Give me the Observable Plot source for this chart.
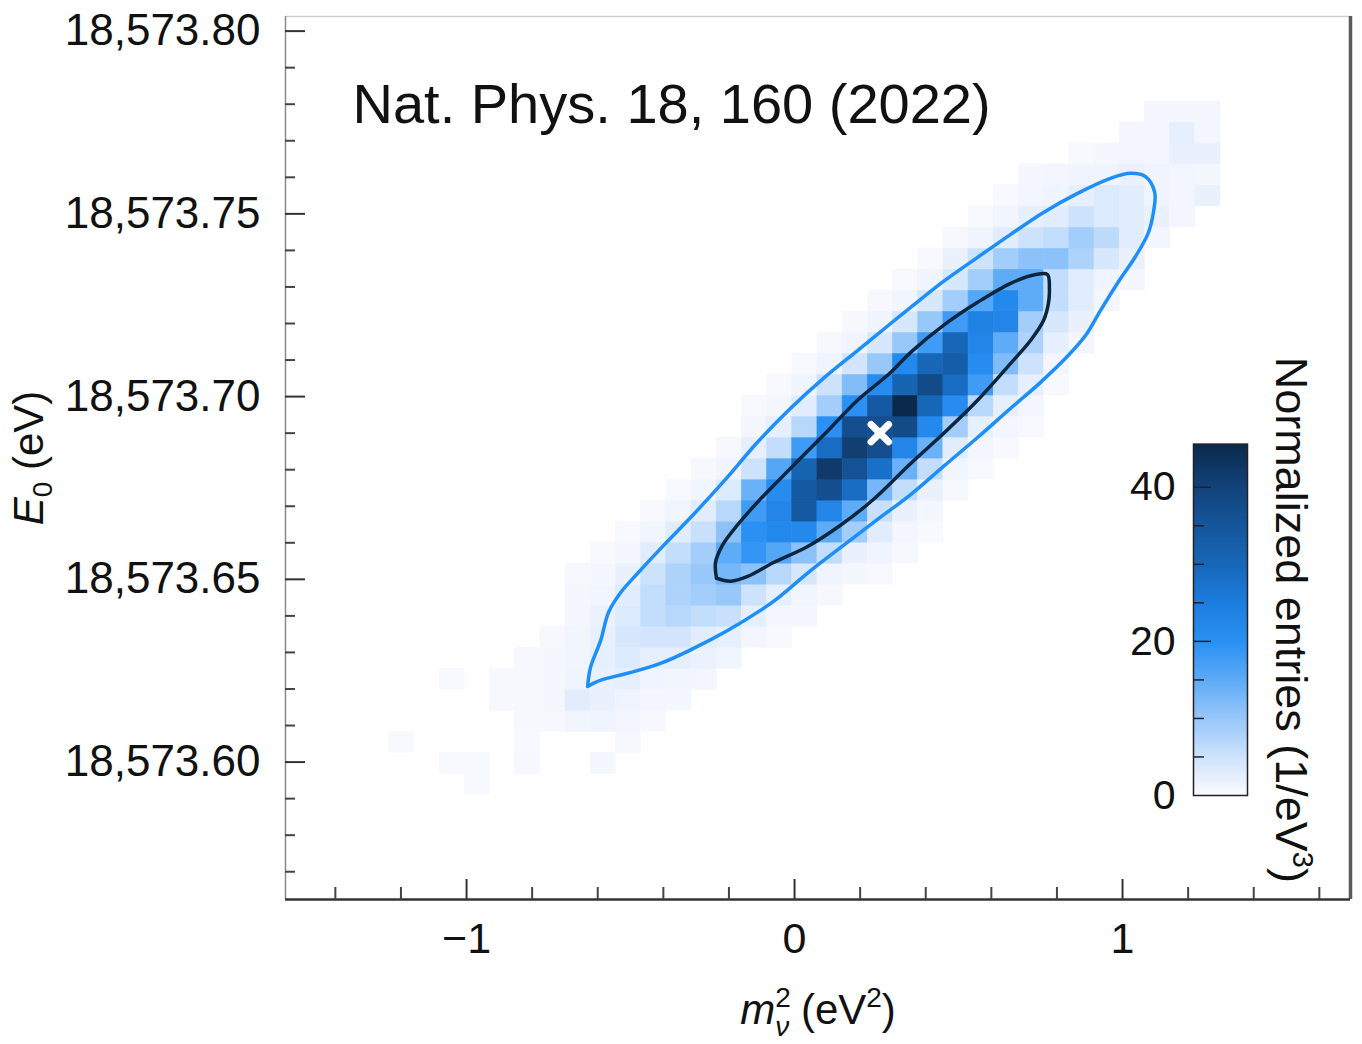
<!DOCTYPE html>
<html>
<head>
<meta charset="utf-8">
<script src="https://cdn.jsdelivr.net/npm/d3@7"></script>
<script src="https://cdn.jsdelivr.net/npm/@observablehq/plot@0.6"></script>
<style>
  html, body { margin: 0; padding: 0; background: #fff; overflow: hidden; }
  #chart { position: relative; width: 1362px; height: 1044px; }
  #chart svg { position: absolute; }
</style>
</head>
<body>
<div id="chart"></div>
<script>
// ---- Histogram binning (m_nu^2 in eV^2, E0 in eV) ----
const mBinOrigin = -0.007;
const mBinWidth = 0.0768;
const eBinOrigin = 18573.7003;
const eBinHeight = 0.00575;
const firstColumn = -16;

// First row index of each column, columns ordered from firstColumn upward
const columnStartRow = [
  -17, 0, -18, -19, -15, -18, -16, -16, -18, -17, -16, -15, -14, -13, -12, -12, -11,
  -10, -9, -9, -8, -7, -5, -4, -3, -2, 0, 2, 4, 5, 7, 8, 9
];

// Normalized entries (1/eV^3) per column, rows ascending in E0
const columnEntries = [
  [0.5],
  [],
  [0.5, 0, 0, 0, 0.5],
  [0.5, 0.5],
  [0.6, 0.6],
  [0.6, 0.5, 0.6, 0.6, 0.6, 0.6],
  [0.6, 0.8, 0.8, 0.8, 0.6],
  [1.2, 3, 1.5, 1.2, 1.2, 0.8, 0.8, 0.6],
  [0.8, 0, 1.5, 2, 2, 2.5, 2.2, 1.8, 1.2, 0.8, 0.5],
  [0.6, 1, 1.5, 2.5, 3.5, 4, 3.5, 3, 2, 0.8, 0.5],
  [0.6, 1, 1.5, 2.5, 4.5, 6, 6, 5, 3, 1.2, 0.5],
  [0.8, 1.2, 2.5, 4.5, 7, 8, 8, 6, 3, 1.2, 0.5],
  [1, 1.8, 3, 6, 9, 10, 9, 5.5, 3, 1.2, 0.6],
  [1.2, 2.5, 5.5, 10, 13, 15, 11, 7, 3.5, 1.5, 0.6],
  [1, 2.5, 5, 11, 19, 20, 18, 14, 5, 2.5, 1, 0.5],
  [0.5, 0.8, 2.5, 7, 16, 22, 23, 21, 16, 6, 2.5, 1, 0.5],
  [0.8, 1.2, 4, 11, 22, 34, 34, 31, 18, 7, 3, 1.5, 0.5],
  [0.6, 1.5, 6, 15, 23, 37, 42, 29, 20, 9, 5, 1.5, 0.6],
  [0.8, 2, 9, 15, 29, 36, 41, 37, 20, 12, 4.5, 1.5, 0.6],
  [0.5, 1.5, 3, 5.5, 13, 28, 37, 37, 34, 21, 10, 4, 1.5, 0.6],
  [0.6, 1, 2, 6, 14, 23, 38, 46, 31, 22, 10, 4, 1.2, 0.5],
  [0.5, 0.8, 2, 6, 14, 22, 30, 38, 30, 18, 10, 4, 1.5, 0.5],
  [0.6, 1.2, 3, 9, 21, 29, 33, 30, 18, 9, 4, 2, 0.6],
  [0.5, 1, 2.5, 7, 18, 21, 23, 24, 16, 9, 5, 1.5, 0.5],
  [0.5, 1, 2.5, 6, 12, 15, 23, 22, 15, 9, 3, 1.2, 0.5],
  [0.5, 1, 2.5, 5, 8, 9, 15, 15, 11, 5, 2.5, 1, 0.8],
  [0.5, 1, 2.5, 4, 6, 6, 11, 6, 3, 1.5, 1],
  [1, 2, 3, 3, 8, 9, 5, 2.5, 1.5, 0.5],
  [1, 1.5, 4, 6.5, 3.5, 3.5, 1.5, 0.8],
  [0.8, 2, 3, 3, 3, 2, 1, 1],
  [1, 2, 1.5, 1.5, 1, 1, 0.8],
  [1, 1, 1, 2, 2.5, 0.8],
  [2, 0.8, 2, 1, 0.8]
];

// Confidence contours [m_nu^2, E0]
const outerContour = [
  [-0.631, 18573.6207], [-0.622, 18573.6259], [-0.591, 18573.6333], [-0.567, 18573.6410],
  [-0.530, 18573.6464], [-0.479, 18573.6516], [-0.399, 18573.6593], [-0.317, 18573.6669],
  [-0.216, 18573.6768], [-0.113, 18573.6875], [-0.012, 18573.6968], [0.088, 18573.7050],
  [0.192, 18573.7126], [0.293, 18573.7200], [0.354, 18573.7244], [0.454, 18573.7315],
  [0.558, 18573.7381], [0.659, 18573.7444], [0.759, 18573.7504], [0.863, 18573.7556],
  [0.963, 18573.7597], [1.024, 18573.7611], [1.070, 18573.7602], [1.098, 18573.7559],
  [1.095, 18573.7509], [1.079, 18573.7449], [1.040, 18573.7384], [0.988, 18573.7315],
  [0.933, 18573.7236], [0.887, 18573.7167], [0.835, 18573.7113], [0.750, 18573.7039],
  [0.659, 18573.6968], [0.558, 18573.6888], [0.454, 18573.6809], [0.354, 18573.6732],
  [0.253, 18573.6664], [0.149, 18573.6593], [0.049, 18573.6524], [-0.052, 18573.6448],
  [-0.104, 18573.6415], [-0.204, 18573.6360], [-0.308, 18573.6311], [-0.409, 18573.6270],
  [-0.509, 18573.6243], [-0.591, 18573.6224], [-0.631, 18573.6207]
];
const innerContour = [
  [-0.238, 18573.6503], [-0.241, 18573.6546], [-0.220, 18573.6593], [-0.180, 18573.6642],
  [-0.113, 18573.6711], [-0.012, 18573.6804], [0.088, 18573.6894], [0.192, 18573.6990],
  [0.293, 18573.7066], [0.354, 18573.7121], [0.454, 18573.7195], [0.558, 18573.7258],
  [0.659, 18573.7310], [0.735, 18573.7334], [0.771, 18573.7334], [0.777, 18573.7296],
  [0.774, 18573.7255], [0.759, 18573.7208], [0.720, 18573.7154], [0.659, 18573.7091],
  [0.558, 18573.6990], [0.454, 18573.6899], [0.354, 18573.6817], [0.241, 18573.6719],
  [0.140, 18573.6648], [0.040, 18573.6590], [-0.064, 18573.6546], [-0.143, 18573.6508],
  [-0.195, 18573.6495], [-0.238, 18573.6503]
];

// Best fit point
const bestFit = [{m2: 0.26, e0: 18573.69}];

// Axes
const xDomain = [-1.552, 1.695];
const yDomain = [18573.5624, 18573.8040];
const xMajorTicks = [-1, 0, 1];
const xMinorTicks = [-1.4, -1.2, -0.8, -0.6, -0.4, -0.2, 0.2, 0.4, 0.6, 0.8, 1.2, 1.4, 1.6];
const yMajorTicks = [18573.60, 18573.65, 18573.70, 18573.75, 18573.80];
const yMinorTicks = [18573.57, 18573.58, 18573.59, 18573.61, 18573.62, 18573.63, 18573.64,
  18573.66, 18573.67, 18573.68, 18573.69, 18573.71, 18573.72, 18573.73, 18573.74,
  18573.76, 18573.77, 18573.78, 18573.79];

// Colour bar
const barDomain = [0, 45.6];
const barLabelTicks = [0, 20, 40];
const barMajorTicks = [20, 40];
const barMinorTicks = [5, 10, 15, 25, 30, 35];

const colorStops = [0, 1, 2.5, 5, 10, 15, 20, 25, 30, 35, 40, 45.6];
const colorRamp = ["#fbfbff", "#f3f6fe", "#e6effd", "#cde3fc", "#98c8fa", "#5eabf7",
  "#2a90f4", "#1c7edf", "#1767b9", "#15569c", "#12437b", "#0b2a4b"];

const fontFamily = "'Liberation Sans', Arial, Helvetica, sans-serif";
const colorScale = {type: "linear", domain: colorStops, range: colorRamp, interpolate: "rgb", clamp: true};

// Build histogram cells
const cells = [];
columnEntries.forEach((values, k) => {
  const i = firstColumn + k;
  values.forEach((v, r) => {
    if (!v) return;
    const j = columnStartRow[k] + r;
    cells.push({
      m1: mBinOrigin + i * mBinWidth,
      m2: mBinOrigin + (i + 1) * mBinWidth,
      e1: eBinOrigin + j * eBinHeight,
      e2: eBinOrigin + (j + 1) * eBinHeight,
      v
    });
  });
});

// Replace a placeholder text with styled tspans (italics, sub/superscripts)
function setRichText(svg, placeholder, parts) {
  const node = Array.from(svg.querySelectorAll("text")).find(t => t.textContent === placeholder);
  if (!node) return;
  const t = d3.select(node);
  t.text(null);
  for (const p of parts) {
    const s = t.append("tspan").text(p.text);
    if (p.italic) s.attr("font-style", "italic");
    if (p.size) s.attr("font-size", p.size);
    if (p.dx != null) s.attr("dx", p.dx);
    if (p.dy != null) s.attr("dy", p.dy);
  }
}

const main = Plot.plot({
  width: 1362,
  height: 1044,
  marginLeft: 285,
  marginRight: 12,
  marginTop: 16,
  marginBottom: 145,
  style: {fontFamily, color: "#111", background: "transparent", overflow: "visible"},
  x: {domain: xDomain, label: null},
  y: {domain: yDomain, label: null},
  color: colorScale,
  marks: [
    Plot.rect(cells, {x1: "m1", x2: "m2", y1: "e1", y2: "e2", fill: "v", stroke: "v", strokeWidth: 0.6}),
    Plot.line(outerContour, {x: d => d[0], y: d => d[1], stroke: "#1e8ffa", strokeWidth: 3.5, curve: "catmull-rom"}),
    Plot.line(innerContour, {x: d => d[0], y: d => d[1], stroke: "#0c2640", strokeWidth: 3.5, curve: "catmull-rom"}),
    Plot.dot(bestFit, {x: "m2", y: "e0", symbol: "times", r: 8, stroke: "white", strokeWidth: 7, strokeLinecap: "round"}),
    // frame
    Plot.ruleY([yDomain[1]], {stroke: "#cfcfcf", strokeWidth: 1.5}),
    Plot.ruleX([xDomain[0]], {stroke: "#8a8a8a", strokeWidth: 1.5}),
    Plot.ruleX([xDomain[1]], {stroke: "#5a5a5a", strokeWidth: 3.5}),
    Plot.ruleY([yDomain[0]], {stroke: "#333", strokeWidth: 2.5}),
    // y axis
    Plot.axisY(yMajorTicks, {anchor: "left", tickSize: -20, fill: "none", stroke: "#333", strokeWidth: 2, label: null}),
    Plot.axisY(yMinorTicks, {anchor: "left", tickSize: -10, fill: "none", stroke: "#444", strokeWidth: 2, label: null}),
    Plot.axisY(yMajorTicks, {anchor: "left", tickSize: 0, tickPadding: 25, tickFormat: d3.format(",.2f"), fontSize: 44, fill: "#111", label: null}),
    // x axis
    Plot.axisX(xMajorTicks, {anchor: "bottom", tickSize: -20, fill: "none", stroke: "#333", strokeWidth: 2, label: null}),
    Plot.axisX(xMinorTicks, {anchor: "bottom", tickSize: -12, fill: "none", stroke: "#444", strokeWidth: 2, label: null}),
    Plot.axisX(xMajorTicks, {anchor: "bottom", tickSize: 0, tickPadding: 23, tickFormat: d3.format("d"), fontSize: 43, fill: "#111", label: null}),
    // titles
    Plot.text(["x-axis title"], {text: d => d, frameAnchor: "bottom", textAnchor: "middle", dy: 111, fontSize: 42, fill: "#111", lineAnchor: "middle"}),
    Plot.text(["y-axis title"], {text: d => d, frameAnchor: "left", textAnchor: "middle", dx: -256, rotate: -90, fontSize: 42, fill: "#111", lineAnchor: "middle"}),
    Plot.text(["Nat. Phys. 18, 160 (2022)"], {text: d => d, frameAnchor: "top-left", textAnchor: "start", lineAnchor: "middle", dx: 67, dy: 89, fontSize: 56, fill: "#111"})
  ]
});

setRichText(main, "x-axis title", [
  {text: "m", italic: true},
  {text: "2", size: 28, dy: -17},
  {text: "\u03bd", italic: true, size: 28, dx: -15.5, dy: 29},
  {text: " (eV", dy: -12},
  {text: "2", size: 28, dy: -17},
  {text: ")", dy: 17}
]);
setRichText(main, "y-axis title", [
  {text: "E", italic: true},
  {text: "0", size: 28, dy: 9},
  {text: " (eV)", dy: -9}
]);

const bar = Plot.plot({
  width: 262,
  height: 560,
  marginLeft: 93,
  marginRight: 115,
  marginTop: 103.6,
  marginBottom: 105,
  style: {fontFamily, color: "#111", background: "transparent", overflow: "visible"},
  x: {domain: [0, 1], axis: null},
  y: {domain: barDomain, label: null},
  color: colorScale,
  marks: [
    Plot.raster({x1: 0, x2: 1, y1: barDomain[0], y2: barDomain[1], width: 1, height: 240, fill: (x, y) => y, imageRendering: "auto"}),
    Plot.frame({stroke: "#222", strokeWidth: 1.5}),
    Plot.axisY(barMinorTicks, {anchor: "left", tickSize: -11, fill: "none", stroke: "#222", strokeWidth: 1.5, label: null}),
    Plot.axisY(barMajorTicks, {anchor: "left", tickSize: -18, fill: "none", stroke: "#222", strokeWidth: 1.5, label: null}),
    Plot.axisY(barLabelTicks, {anchor: "left", tickSize: 0, tickPadding: 18, fontSize: 41, fill: "#111", label: null}),
    Plot.text(["colour bar title"], {text: d => d, frameAnchor: "right", textAnchor: "middle", dx: 43, rotate: 90, fontSize: 45, fill: "#111", lineAnchor: "middle"})
  ]
});

setRichText(bar, "colour bar title", [
  {text: "Normalized entries (1/eV"},
  {text: "3", size: 29, dy: -17},
  {text: ")", dy: 17}
]);

const chart = document.getElementById("chart");
main.style.left = "0px";
main.style.top = "0px";
bar.style.left = "1100px";
bar.style.top = "340px";
chart.appendChild(main);
chart.appendChild(bar);
</script>
</body>
</html>
